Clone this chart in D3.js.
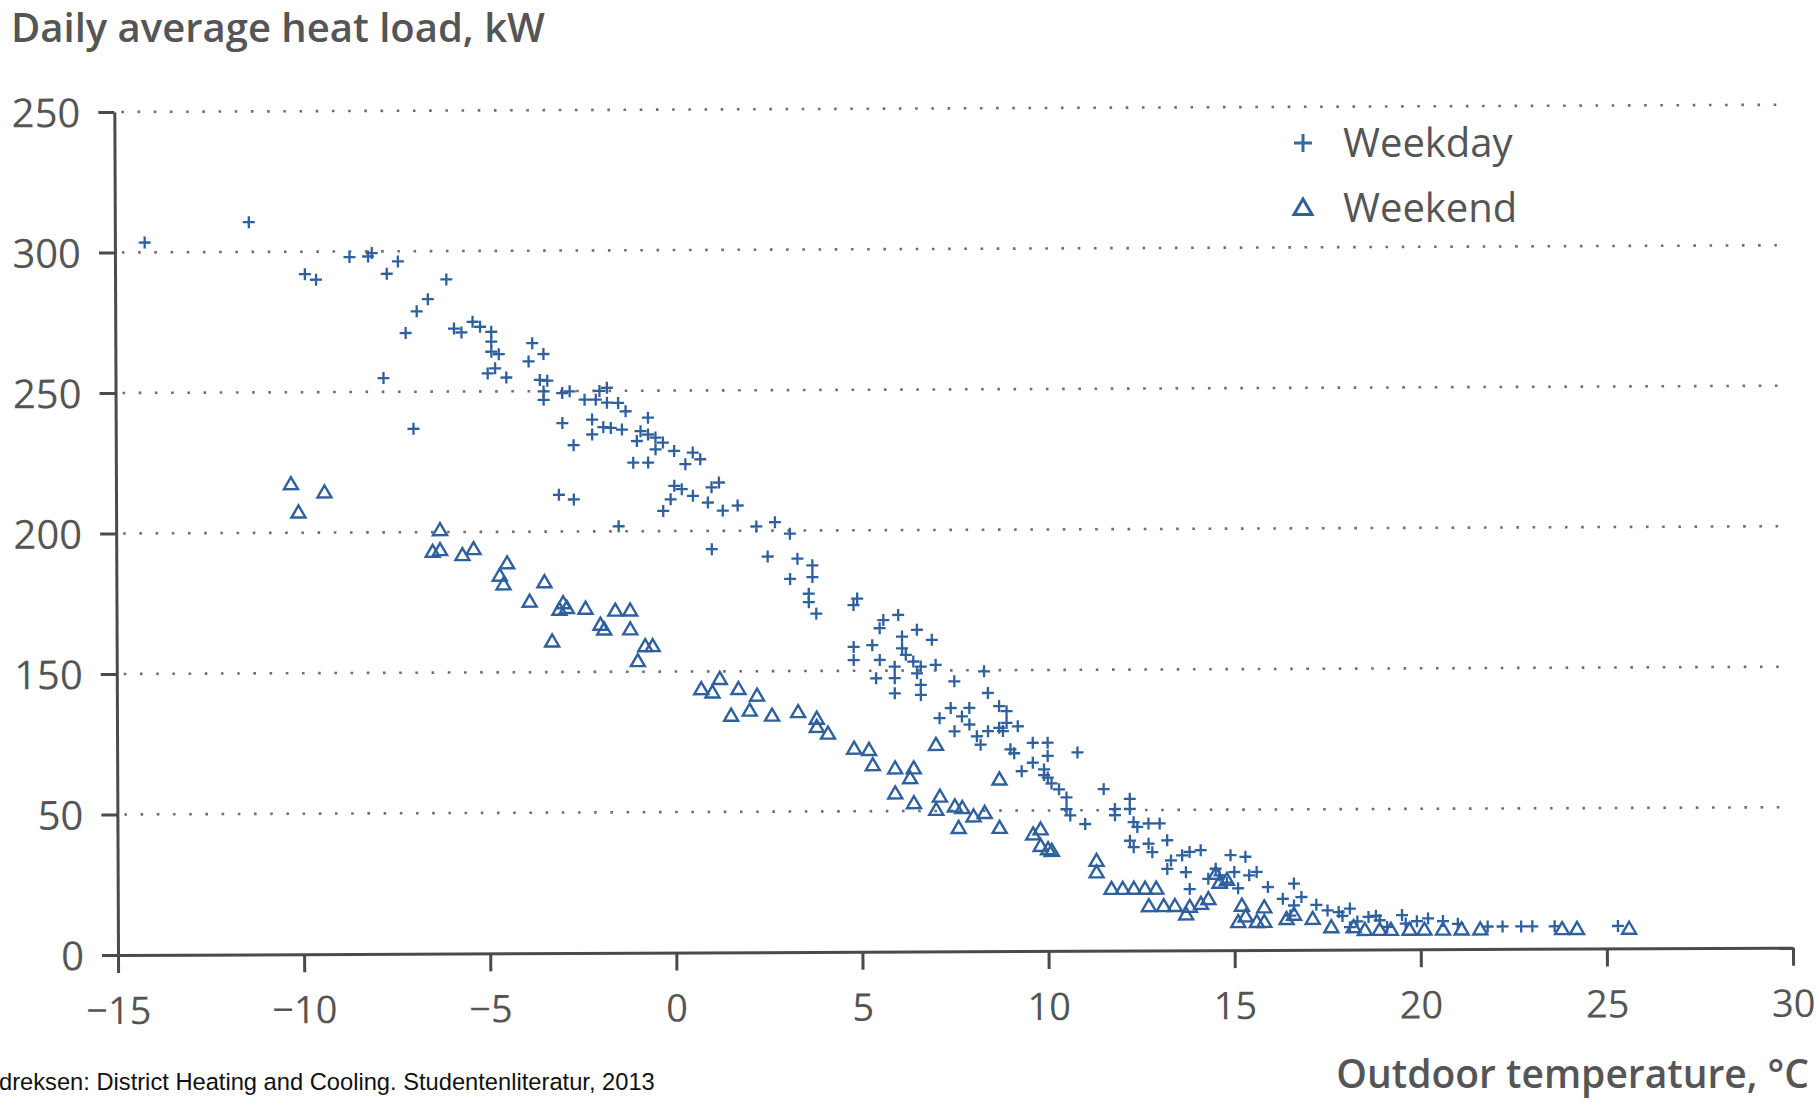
<!DOCTYPE html>
<html>
<head>
<meta charset="utf-8">
<script src="https://d3js.org/d3.v7.min.js"></script>
<style>
  body { margin: 0; background: #fff; }
</style>
</head>
<body>
<script>
// axis ticks and labels (labels as printed in the figure)
const xTicks = [-15, -10, -5, 0, 5, 10, 15, 20, 25, 30];
const xTickLabels = ['\u221215', '\u221210', '\u22125', '0', '5', '10', '15', '20', '25', '30'];
const yTicks = [0, 50, 100, 150, 200, 250, 300];
const yTickLabels = ['0', '50', '150', '200', '250', '300', '250'];
const seriesNames = ['Weekday', 'Weekend'];

// weekday points: outdoor temperature (°C) and load
const weekdayTemp = [-14.2,-11.4,-9.9,-9.6,-8.7,-8.2,-8.1,-7.7,-7.4,-6.1,-6.6,-6.9,-7.2,-7.8,-7.0,-5.9,-5.7,-5.4,-5.2,-4.9,
  -4.9,-4.9,-4.7,-5.0,-4.8,-4.5,-3.8,-3.5,-3.9,-3.6,-3.4,-3.5,-3.5,-3.0,-2.8,-2.4,-2.1,-1.8,-2.0,-1.8,
  -3.0,-2.7,-2.2,-1.9,-2.2,-1.7,-3.1,-2.7,-1.5,-1.3,-0.7,-1.4,-0.9,-0.7,-0.5,-0.3,-1.0,0.0,-0.5,-1.1,
  -0.7,0.3,0.5,0.7,0.0,0.2,-0.1,0.5,0.9,1.0,1.2,1.3,1.7,-0.3,-1.5,2.2,2.7,3.1,1.0,2.5,
  3.3,3.7,3.1,3.7,3.6,3.6,3.8,4.9,4.8,6.0,5.6,5.5,6.5,6.1,6.9,4.8,5.3,4.8,5.5,6.1,
  6.2,6.4,6.6,7.0,5.9,5.4,5.9,6.5,6.6,7.5,8.3,5.9,6.6,8.4,8.7,7.4,7.1,7.7,7.9,7.9,
  7.5,8.1,8.4,8.7,8.9,8.8,8.2,9.0,9.6,10.0,10.0,9.6,9.3,9.9,10.0,10.3,10.5,10.5,10.8,11.0,
  11.5,11.8,12.2,12.2,12.3,12.2,8.9,9.2,9.1,9.9,10.1,10.6,11.8,12.4,12.7,13.0,13.2,12.3,12.7,12.8,
  13.3,13.6,13.8,14.1,13.2,13.7,13.8,14.9,15.3,14.6,15.0,15.4,15.6,14.3,15.9,16.6,16.3,16.8,16.6,16.5,
  17.8,18.1,18.6,19.5,18.9,18.1,19.6,19.1,21.8,22.2,22.7,23.0,23.6,25.3,14.5,14.8,15.1,17.2,17.5,17.9,
  18.3,18.8,19.9,20.2,20.6,21.0];
const weekdayLoad = [253.5,260.6,242,240,248,248.2,249.4,242,246.4,239.9,232.9,228.6,220.9,204.9,186.8,222.4,221,224.8,223,221.2,
  217.7,214.1,213.2,206.4,208.2,204.9,217.1,213.2,210.6,204,203.7,199.9,196.9,199.3,199.9,196.9,196.9,201.1,200,195.8,
  188.6,180.7,189.8,187.1,184.5,186.8,163.1,161.4,195.7,192.7,190.4,186.2,185.6,184.4,183.3,181.5,182.1,178.5,179.1,174.4,
  174.4,173.8,177.9,175.5,166.1,164.9,161.3,162.5,160.1,165.5,167.2,157.2,159,157.2,151.8,151.5,153,148.9,143.5,140.8,
  140,137.6,132.8,133.4,127.5,124.5,120.4,125.7,123.4,119.8,118,115.1,114.5,112.1,110.9,108.5,109.1,103.8,103.8,107.9,
  105.6,103.2,101.4,102,101.4,97.3,97.3,99,94.9,96.1,99.6,91.9,91.3,91.9,87.2,86.6,83,83.6,86.6,80.7,
  78.3,76.5,78.3,79.5,81.2,78.3,73.5,71.8,74.1,74.1,69.4,67,64,64.6,61.7,57.5,54.6,50.4,70.6,45.1,
  57.5,50.4,54,50.4,45.7,39.1,85.4,80,70.4,62.6,59.6,48.2,48.2,44,45.2,45.2,39.2,36.8,38,35,
  32,33.8,35,35.6,29,27.8,21.8,33.8,33.2,26.6,27.8,26.6,27.8,25.4,22.4,23.6,18.2,18.8,15.8,12.2,
  13.4,14.6,11.6,12.2,10.4,8,9.2,8,8,8,8,8,8,8,29,24,22,16,14,12,
  10,12,10,11,10,9];

// weekend points
const weekendTemp = [-10.3,-9.4,-10.1,-6.3,-6.5,-6.3,-5.7,-5.4,-4.5,-4.7,-4.6,-3.5,-3.9,-3.0,-2.9,-3.1,-2.4,-1.6,-1.2,-2.0,
  -1.9,-1.2,-3.3,-0.8,-0.6,-1.0,0.7,1.0,1.2,1.7,2.2,1.5,2.0,2.6,3.3,3.8,3.8,4.1,4.8,5.2,
  5.3,5.9,6.4,6.3,5.9,6.4,7.1,7.0,7.5,7.7,8.0,8.3,7.6,8.7,7.0,8.7,9.6,9.8,9.8,10.0,
  10.1,11.3,11.3,11.7,12.0,12.3,12.6,12.9,12.7,13.1,13.4,13.8,14.1,14.3,13.7,14.5,14.6,14.8,15.1,15.3,
  15.6,15.8,15.2,15.8,16.4,16.6,17.1,17.6,18.2,18.5,18.9,19.2,19.7,20.1,20.6,21.1,21.6,23.8,24.2,25.6];
const weekendLoad = [167.3,164.3,157.2,150.7,143,143.6,141.8,143.9,138.8,134.4,131.3,132,125.1,124.5,122.8,122.2,122.5,121.8,121.8,116.8,
  115.1,115.1,110.9,109.1,109.1,103.8,93.7,92.5,97.3,93.7,91.3,84.2,86,84.2,85.4,83,80.1,77.7,72.3,71.8,
  66.4,65.2,65.2,61.7,56.3,52.8,55.1,50.4,51.6,51,48,49.2,43.9,43.9,73.5,61.1,41.5,43.3,37.4,36.2,
  35.6,32,27.9,22,22,22,22,22,15.8,15.8,15.8,15.5,16.5,18.2,12.8,27.2,24,25,10,12,
  10,10,15.8,15.2,11,12.5,11,8,8,7,7,7,7,7,7,7,7,7,7,7];

const width = 1819;
const height = 1101;
const margin = { top: 112, right: 26, bottom: 146, left: 118 };
const textColor = '#555';
const axisColor = '#4a4a4a';
const markColor = '#2f609e';

const svg = d3.select('body')
  .append('svg')
  .attr('width', width)
  .attr('height', height)
  .style('font-family', '"Open Sans", sans-serif');

const xScale = d3.scaleLinear()
  .domain([-15, 30])
  .range([margin.left, width - margin.right]);

const yScale = d3.scaleLinear()
  .domain([0, 300])
  .range([height - margin.bottom, margin.top]);

// the scanned figure is a little tilted
const plot = svg.append('g')
  .attr('transform', `rotate(-0.25, ${margin.left}, ${height - margin.bottom})`);

// dotted grid lines
plot.append('g')
  .selectAll('line')
  .data(yTicks.filter(d => d > 0))
  .enter()
  .append('line')
  .attr('x1', xScale(-15) + 7)
  .attr('x2', xScale(30) - 6)
  .attr('y1', d => yScale(d))
  .attr('y2', d => yScale(d))
  .attr('stroke', '#6f6f6f')
  .attr('stroke-width', 2.6)
  .attr('stroke-dasharray', '2.6,13.6');

// y axis
const yAxis = d3.axisLeft(yScale)
  .tickValues(yTicks)
  .tickSize(16)
  .tickSizeOuter(0)
  .tickPadding(18)
  .tickFormat((d, i) => yTickLabels[i]);

const gy = plot.append('g')
  .attr('transform', `translate(${margin.left},0)`)
  .call(yAxis);

// x axis
const xAxis = d3.axisBottom(xScale)
  .tickValues(xTicks)
  .tickSize(18)
  .tickSizeOuter(0)
  .tickPadding(24)
  .tickFormat((d, i) => xTickLabels[i]);

const gx = plot.append('g')
  .attr('transform', `translate(0,${height - margin.bottom})`)
  .call(xAxis);

[gx, gy].forEach(g => {
  g.select('.domain').attr('stroke', axisColor).attr('stroke-width', 3);
  g.selectAll('.tick line').attr('stroke', axisColor).attr('stroke-width', 3);
  g.selectAll('.tick text')
    .attr('fill', textColor)
    .style('font-family', '"Open Sans", sans-serif')
    .style('font-size', '38px');
});
gy.selectAll('.tick text').attr('dy', '0.36em').style('font-size', '40px');

// markers
const plusPath = s => `M${-s},0H${s}M0,${-s}V${s}`;
const triPath = s => `M0,${-s}L${s},${s * 0.72}H${-s}Z`;

plot.append('g')
  .selectAll('path')
  .data(d3.range(weekendTemp.length))
  .enter()
  .append('path')
  .attr('transform', i => `translate(${xScale(weekendTemp[i])},${yScale(weekendLoad[i])})`)
  .attr('d', triPath(7))
  .attr('fill', 'none')
  .attr('stroke', markColor)
  .attr('stroke-width', 2.4);

plot.append('g')
  .selectAll('path')
  .data(d3.range(weekdayTemp.length))
  .enter()
  .append('path')
  .attr('transform', i => `translate(${xScale(weekdayTemp[i])},${yScale(weekdayLoad[i])})`)
  .attr('d', plusPath(6))
  .attr('stroke', markColor)
  .attr('stroke-width', 2.3);

// legend
const legend = svg.append('g').attr('transform', 'translate(1303,143)');
legend.append('path')
  .attr('d', plusPath(9))
  .attr('stroke', '#3469a8')
  .attr('stroke-width', 3);
legend.append('path')
  .attr('transform', 'translate(0,65)')
  .attr('d', triPath(9))
  .attr('fill', 'none')
  .attr('stroke', markColor)
  .attr('stroke-width', 3);
legend.selectAll('text')
  .data(seriesNames)
  .enter()
  .append('text')
  .attr('x', 40)
  .attr('y', (d, i) => 14 + i * 65)
  .attr('fill', textColor)
  .style('font-size', '40px')
  .text(d => d);

// titles
svg.append('text')
  .attr('x', 11)
  .attr('y', 42)
  .attr('fill', textColor)
  .style('font-size', '40px')
  .style('font-weight', 600)
  .text('Daily average heat load, kW');

svg.append('text')
  .attr('x', 1809)
  .attr('y', 1088)
  .attr('text-anchor', 'end')
  .attr('fill', textColor)
  .style('font-size', '39px')
  .style('font-weight', 600)
  .text('Outdoor temperature, \u00B0C');

svg.append('text')
  .attr('x', -1)
  .attr('y', 1090)
  .attr('fill', '#111')
  .style('font-family', '"Liberation Sans", Arial, sans-serif')
  .style('font-size', '23.7px')
  .text('dreksen: District Heating and Cooling. Studentenliteratur, 2013');
</script>
</body>
</html>
